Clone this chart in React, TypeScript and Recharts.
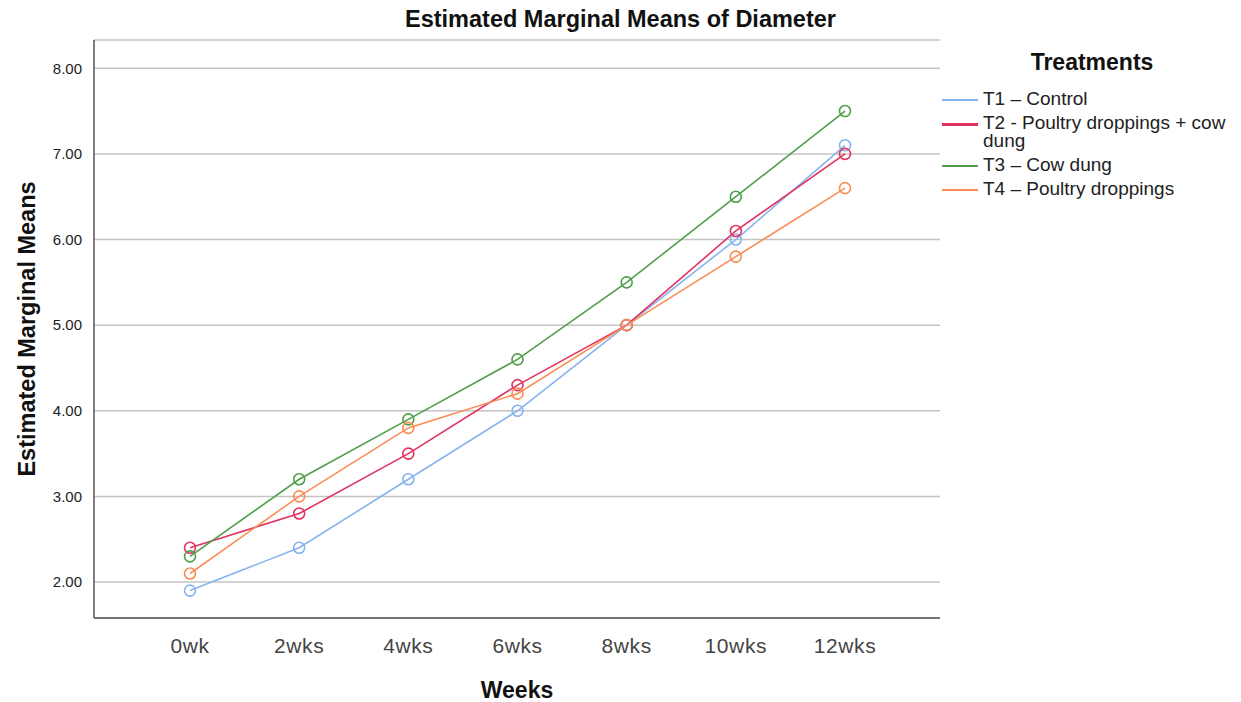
import React from "react";
import { LineChart, Line, XAxis, YAxis, CartesianGrid } from "recharts";

// values
const weeks = ["0wk", "2wks", "4wks", "6wks", "8wks", "10wks", "12wks"];
const t1Control = [1.9, 2.4, 3.2, 4.0, 5.0, 6.0, 7.1];
const t2PoultryCow = [2.4, 2.8, 3.5, 4.3, 5.0, 6.1, 7.0];
const t3CowDung = [2.3, 3.2, 3.9, 4.6, 5.5, 6.5, 7.5];
const t4Poultry = [2.1, 3.0, 3.8, 4.2, 5.0, 5.8, 6.6];
const yTicks = [2, 3, 4, 5, 6, 7, 8];

const SERIES = [
  { key: "t1", name: "T1 \u2013 Control", color: "#86b4ee", values: t1Control },
  { key: "t2", name: "T2 - Poultry droppings + cow dung", color: "#e2325e", values: t2PoultryCow },
  { key: "t3", name: "T3 \u2013 Cow dung", color: "#4f9f48", values: t3CowDung },
  { key: "t4", name: "T4 \u2013 Poultry droppings", color: "#f98d55", values: t4Poultry },
];

const data = weeks.map((w, i) => {
  const row: Record<string, string | number> = { week: w };
  SERIES.forEach((s) => (row[s.key] = s.values[i]));
  return row;
});

const FONT = "'Liberation Sans', Arial, sans-serif";

function TreatmentLegend() {
  return (
    <div style={{ position: "absolute", left: 942, top: 49, width: 295, fontFamily: FONT, color: "#111" }}>
      <div style={{ fontWeight: "bold", fontSize: 23, textAlign: "center", width: 260, marginLeft: 20, marginBottom: 14 }}>
        Treatments
      </div>
      {SERIES.map((s) => (
        <div
          key={s.key}
          style={{ display: "flex", alignItems: "flex-start", marginBottom: 6, marginTop: s.key === "t2" ? 3 : 0 }}
        >
          <div
            style={{
              width: 36,
              height: s.key === "t2" ? 3 : 2,
              background: s.color,
              marginTop: 9,
              marginRight: 5,
              flexShrink: 0,
            }}
          />
          <div style={{ fontSize: 19, lineHeight: "18px", width: 254, color: "#222" }}>{s.name}</div>
        </div>
      ))}
    </div>
  );
}

export default function App() {
  return (
    <div style={{ position: "absolute", left: 0, top: 0, width: 1241, height: 702, background: "#fff" }}>
      <div
        style={{
          position: "absolute",
          left: 0,
          width: 1241,
          top: 6,
          textAlign: "center",
          fontFamily: FONT,
          fontWeight: "bold",
          fontSize: 23.5,
          color: "#111",
        }}
      >
        Estimated Marginal Means of Diameter
      </div>
      <LineChart width={1241} height={702} data={data} margin={{ top: 40, right: 301, bottom: 0, left: 10 }}>
        <CartesianGrid vertical={false} stroke="#c4c4c4" strokeWidth={1.5} />
        <XAxis
          dataKey="week"
          padding={{ left: 96, right: 95 }}
          height={84}
          axisLine={{ stroke: "#555", strokeWidth: 1.5 }}
          tickLine={false}
          tick={{ fontSize: 21, fill: "#444", fontFamily: FONT, letterSpacing: 0.6 }}
          tickMargin={14}
          label={{
            value: "Weeks",
            position: "insideBottom",
            offset: 4,
            style: { fontWeight: "bold", fontSize: 23, fill: "#111", fontFamily: FONT },
          }}
        />
        <YAxis
          width={84}
          domain={[1.58, 8.33]}
          ticks={yTicks}
          allowDataOverflow
          axisLine={{ stroke: "#555", strokeWidth: 1.5 }}
          tickLine={false}
          tickMargin={6}
          tickFormatter={(v: number) => v.toFixed(2)}
          tick={{ fontSize: 15, fill: "#222", fontFamily: FONT }}
          label={{
            value: "Estimated Marginal Means",
            angle: -90,
            position: "insideLeft",
            offset: 17,
            style: { textAnchor: "middle", fontWeight: "bold", fontSize: 23.5, fill: "#111", fontFamily: FONT },
          }}
        />
        {SERIES.map((s) => (
          <Line
            key={s.key}
            dataKey={s.key}
            name={s.name}
            type="linear"
            stroke={s.color}
            strokeWidth={1.6}
            dot={{ r: 5.5, stroke: s.color, strokeWidth: 1.6, fill: "none" }}
            activeDot={false}
            isAnimationActive={false}
          />
        ))}
      </LineChart>
      <TreatmentLegend />
    </div>
  );
}
